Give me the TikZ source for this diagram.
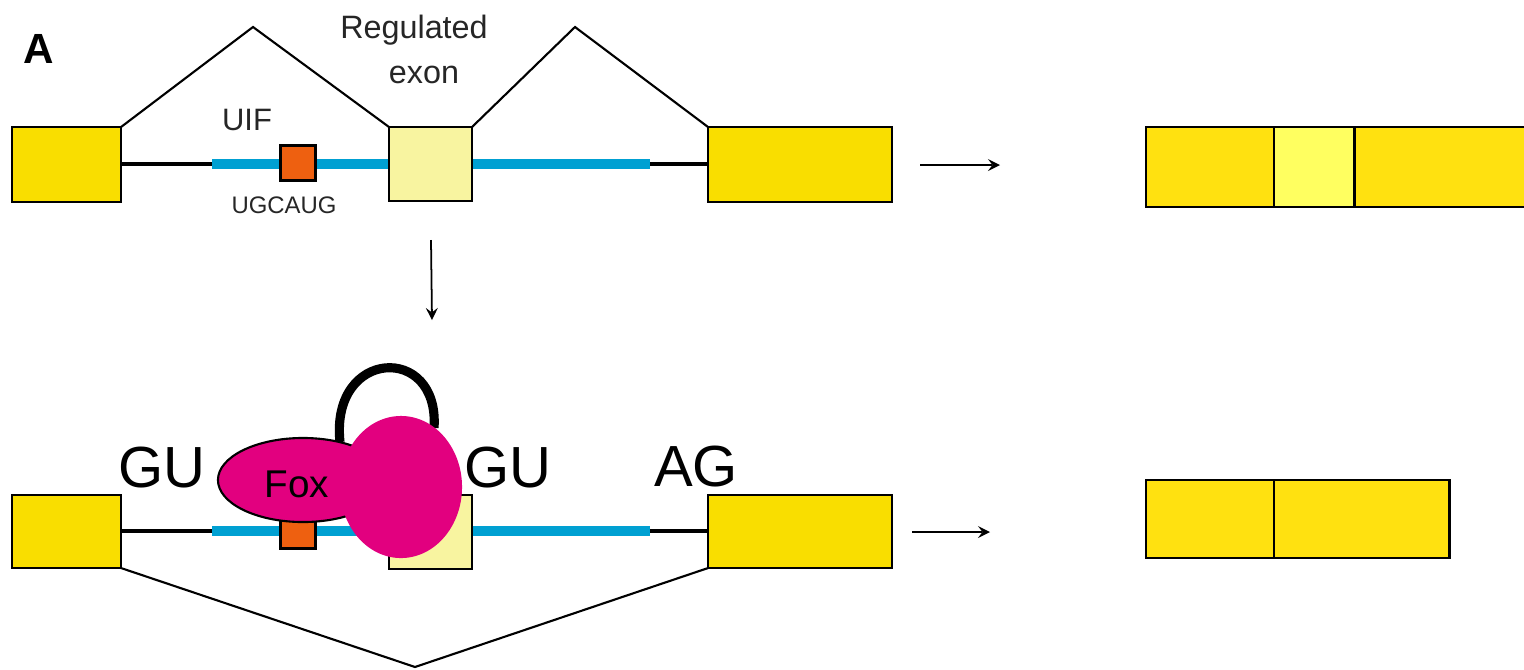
\documentclass[tikz,border=0pt]{standalone}
\usepackage{fontspec}
\setmainfont{Liberation Sans}
\usetikzlibrary{positioning,shapes.geometric}

\definecolor{exonyellow}{RGB}{249,222,0}
\definecolor{regyellow}{RGB}{248,244,160}
\definecolor{intronblue}{RGB}{0,160,210}
\definecolor{motiforange}{RGB}{238,96,16}
\definecolor{foxpink}{RGB}{226,0,127}
\definecolor{mrnayellow}{RGB}{255,225,16}
\definecolor{mrnalight}{RGB}{255,255,96}

\begin{document}
\begin{tikzpicture}[
    x=0.01cm, y=-0.01cm,
    >=stealth,
    exon/.style={draw, line width=0.6pt, fill=exonyellow, inner sep=0pt, outer sep=0pt, anchor=north west, minimum height=0.75cm},
    regexon/.style={exon, fill=regyellow, minimum width=0.83cm, minimum height=0.74cm},
    motif/.style={draw, line width=0.6pt, fill=motiforange, inner sep=0pt, minimum size=0.35cm},
    intron/.style={line width=1.4pt},
    bpath/.style={line width=2.8pt, draw=intronblue},
    splice/.style={line width=0.6pt},
    mrna/.style={draw, line width=0.8pt, fill=mrnayellow, inner sep=0pt, outer sep=0pt, minimum height=0.8cm},
    flow/.style={->, line width=0.5pt},
    lbl/.style={anchor=base, text=black!85},
    site/.style={anchor=base, font=\fontsize{16.5}{18}\selectfont}
]
    \useasboundingbox (0,0) rectangle (1524,669);

    \node[anchor=base, font=\bfseries\fontsize{12}{14}\selectfont] (panel) at (39,63) {A};

    % Pre-mRNA, exon included
    \coordinate (b1a) at (212,164);
    \coordinate (b1b) at (650,164);
    \draw[intron] (121,164) -- (b1a);
    \draw[intron] (b1b) -- (708,164);
    \draw[bpath] (b1a) -- (b1b);
    \node[exon, minimum width=1.09cm] (exL1) at (12,127) {};
    \node[regexon] (reg1) at (389,127) {};
    \node[exon, minimum width=1.84cm] (exR1) at (708,127) {};
    \node[motif] (uif1) at (298,163) {};

    \node[lbl, font=\fontsize{8.8}{10}\selectfont] (uiflbl) at (247,130) {UIF};
    \node[lbl, font=\fontsize{6.8}{8}\selectfont] (seqlbl) at (284,213) {UGCAUG};
    \node[lbl, font=\fontsize{9.2}{10}\selectfont] (reglbl) at (414,38) {Regulated};
    \node[lbl, font=\fontsize{9.2}{10}\selectfont] (exonlbl) at (424,83) {exon};

    \coordinate (top1) at (253,27);
    \coordinate (top2) at (575,27);
    \draw[splice] (exL1.north east) -- (top1) -- (reg1.north west);
    \draw[splice] (reg1.north east) -- (top2) -- (exR1.north west);

    % Pre-mRNA, Fox bound
    \coordinate (b2a) at (212,531);
    \coordinate (b2b) at (650,531);
    \draw[intron] (121,531) -- (b2a);
    \draw[intron] (b2b) -- (708,531);
    \draw[bpath] (b2a) -- (b2b);
    \node[exon, minimum width=1.09cm, minimum height=0.73cm] (exL2) at (12,495) {};
    \node[regexon] (reg2) at (389,495) {};
    \node[exon, minimum width=1.84cm, minimum height=0.73cm] (exR2) at (708,495) {};
    \node[motif] (uif2) at (298,531) {};

    \coordinate (bot) at (415,667);
    \draw[splice] (exL2.south east) -- (bot) -- (exR2.south west);

    \draw[line width=2.6pt] (340,442) .. controls (330,348) and (440,343) .. (434,428);
    \node[draw, line width=0.6pt, ellipse, fill=foxpink, minimum width=1.7cm, minimum height=0.84cm] (fox) at (303,480) {};
    \node[anchor=base, font=\fontsize{11}{12}\selectfont] (foxlbl) at (297,497) {Fox};
    \node[ellipse, fill=foxpink, minimum width=1.22cm, minimum height=1.42cm] (partner) at (401,487) {};

    \node[site] (gu1) at (162,487) {GU};
    \node[site] (gu2) at (508,487) {GU};
    \node[site] (ag) at (696,486) {AG};

    % Spliced products
    \node[mrna, anchor=north west, minimum width=1.28cm] (m1) at (1146,127) {};
    \node[mrna, fill=mrnalight, minimum width=0.8cm, right=0pt of m1] (m2) {};
    \node[mrna, minimum width=1.8cm, right=0pt of m2] (m3) {};

    \node[mrna, anchor=north west, minimum width=1.28cm, minimum height=0.78cm] (s1) at (1146,480) {};
    \node[mrna, minimum width=1.75cm, minimum height=0.78cm, right=0pt of s1] (s2) {};

    % Arrows
    \coordinate (a1) at (920,165);
    \coordinate (a2) at (1000,165);
    \coordinate (d1) at (431,240);
    \coordinate (d2) at (432,320);
    \coordinate (c1) at (912,532);
    \coordinate (c2) at (990,532);
    \draw[flow] (a1) -- (a2);
    \draw[flow] (d1) -- (d2);
    \draw[flow] (c1) -- (c2);
\end{tikzpicture}
\end{document}
